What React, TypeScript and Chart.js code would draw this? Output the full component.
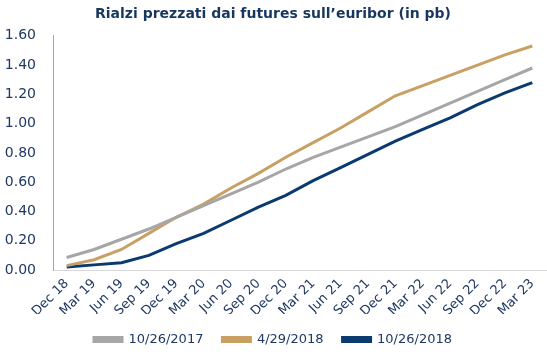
import React, { useEffect, useRef } from "react";
import { Chart, registerables } from "chart.js";

Chart.register(...registerables);

const categories = ["Dec 18", "Mar 19", "Jun 19", "Sep 19", "Dec 19", "Mar 20", "Jun 20", "Sep 20", "Dec 20", "Mar 21", "Jun 21", "Sep 21", "Dec 21", "Mar 22", "Jun 22", "Sep 22", "Dec 22", "Mar 23"];
const series2017 = [0.085, 0.14, 0.21, 0.28, 0.36, 0.44, 0.52, 0.6, 0.69, 0.77, 0.84, 0.91, 0.98, 1.06, 1.14, 1.22, 1.3, 1.38];
const series2018a = [0.03, 0.07, 0.14, 0.25, 0.36, 0.45, 0.56, 0.66, 0.77, 0.87, 0.97, 1.08, 1.19, 1.26, 1.33, 1.4, 1.47, 1.53];
const series2018b = [0.02, 0.035, 0.05, 0.1, 0.18, 0.25, 0.34, 0.43, 0.51, 0.61, 0.7, 0.79, 0.88, 0.96, 1.04, 1.13, 1.21, 1.28];
const seriesLabels = ["10/26/2017", "4/29/2018", "10/26/2018"];
const yTicks = [0, 0.2, 0.4, 0.6, 0.8, 1.0, 1.2, 1.4, 1.6];

const FONT = "'DejaVu Sans', sans-serif";
const TEXT = "#1F3864";

export default function App() {
  const ref = useRef<HTMLCanvasElement>(null);
  useEffect(() => {
    document.body.style.margin = "0";
    const ctx = ref.current!;
    const chart = new Chart(ctx, {
      type: "line",
      data: {
        labels: categories,
        datasets: [
          { label: seriesLabels[0], data: series2017, borderColor: "#A6A6A6", backgroundColor: "#A6A6A6", borderWidth: 3, pointRadius: 0, tension: 0 },
          { label: seriesLabels[1], data: series2018a, borderColor: "#C9A063", backgroundColor: "#C9A063", borderWidth: 3, pointRadius: 0, tension: 0 },
          { label: seriesLabels[2], data: series2018b, borderColor: "#0B3A6E", backgroundColor: "#0B3A6E", borderWidth: 3, pointRadius: 0, tension: 0 },
        ],
      },
      options: {
        animation: false,
        responsive: false,
        layout: { padding: { left: 0, right: 1, top: 0, bottom: -2 } },
        plugins: {
          title: {
            display: true,
            text: "Rialzi prezzati dai futures sull\u2019euribor (in pb)",
            color: "#17375E",
            font: { family: FONT, size: 14, weight: "bold" },
            padding: { top: 6, bottom: 13 },
          },
          legend: {
            position: "bottom",
            labels: {
              color: TEXT,
              font: { family: FONT, size: 13 },
              boxWidth: 28,
              boxHeight: 4,
              padding: 19,
            },
          },
          tooltip: { enabled: false },
        },
        scales: {
          x: {
            type: "category",
            offset: true,
            grid: { display: false, drawTicks: false },
            border: { display: true, color: "#D9D9D9", width: 1 },
            ticks: { color: TEXT, font: { family: FONT, size: 13 }, maxRotation: 45, minRotation: 45, padding: 6, autoSkip: false },
            afterFit: (s: any) => {
              s.paddingLeft = 0;
              s.paddingRight = 0;
              s.height = 44;
            },
          },
          y: {
            min: 0,
            max: 1.6,
            grid: { display: false, drawTicks: false },
            border: { display: true, color: "#A6A6A6", width: 1 },
            afterBuildTicks: (axis: any) => {
              axis.ticks = yTicks.map((v) => ({ value: v }));
            },
            afterFit: (s: any) => {
              s.width = 53;
            },
            ticks: {
              color: TEXT,
              font: { family: FONT, size: 14 },
              padding: 17,
              callback: (v: any) => Number(v).toFixed(2),
            },
          },
        },
      },
    });
    return () => chart.destroy();
  }, []);
  return (
    <div style={{ width: 547, height: 354 }}>
      <canvas ref={ref} width={547} height={354} />
    </div>
  );
}
